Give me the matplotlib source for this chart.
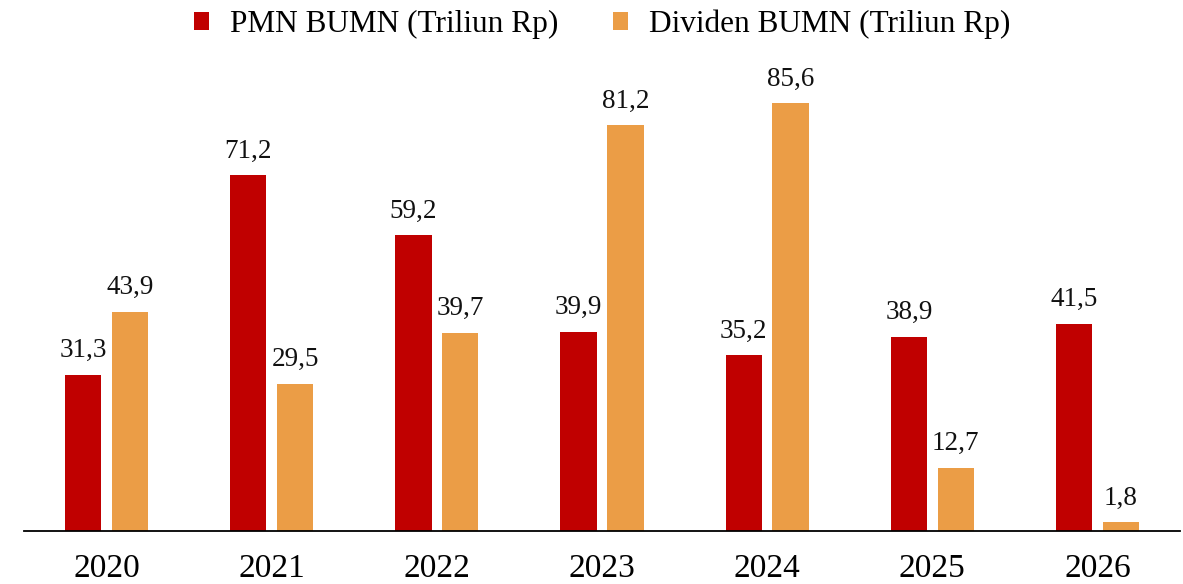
import matplotlib.pyplot as plt
import numpy as np

years = ['2020', '2021', '2022', '2023', '2024', '2025', '2026']
pmn = [31.3, 71.2, 59.2, 39.9, 35.2, 38.9, 41.5]
dividen = [43.9, 29.5, 39.7, 81.2, 85.6, 12.7, 1.8]

plt.rcParams['font.family'] = ['Liberation Serif', 'DejaVu Serif']

fig = plt.figure(figsize=(11.83, 5.84), dpi=100)
ax = fig.add_axes([24 / 1183, 53 / 584, 1156 / 1183, 531 / 584])

x = np.arange(len(years))
w = 0.22
off = 0.142
b1 = ax.bar(x - off, pmn, w, color='#C00000', label='PMN BUMN (Triliun Rp)')
b2 = ax.bar(x + off, dividen, w, color='#EB9D46', label='Dividen BUMN (Triliun Rp)')

# value labels above each bar, comma as decimal separator
for bars, vals in [(b1, pmn), (b2, dividen)]:
    for bar, v in zip(bars, vals):
        ax.annotate(f'{v:.1f}'.replace('.', ','),
                    (bar.get_x() + bar.get_width() / 2, bar.get_height()),
                    xytext=(0, 8), textcoords='offset points',
                    ha='center', va='bottom', fontsize=19.5, color='#111111')

ax.set_xlim(-0.5, 6.5)
ax.set_ylim(0, 106.2)
ax.set_xticks(x)
ax.set_xticklabels(years, fontsize=24)
ax.tick_params(axis='x', length=0, pad=16)
ax.set_yticks([])
for s in ['top', 'right', 'left']:
    ax.spines[s].set_visible(False)
ax.spines['bottom'].set_linewidth(1.3)

ax.legend(loc='upper center', bbox_to_anchor=(0.5, 1.035), ncol=2, frameon=False,
          fontsize=22.5, handlelength=0.5, handleheight=0.5, handletextpad=0.65,
          columnspacing=1.75)

plt.savefig('out.png', dpi=100)
